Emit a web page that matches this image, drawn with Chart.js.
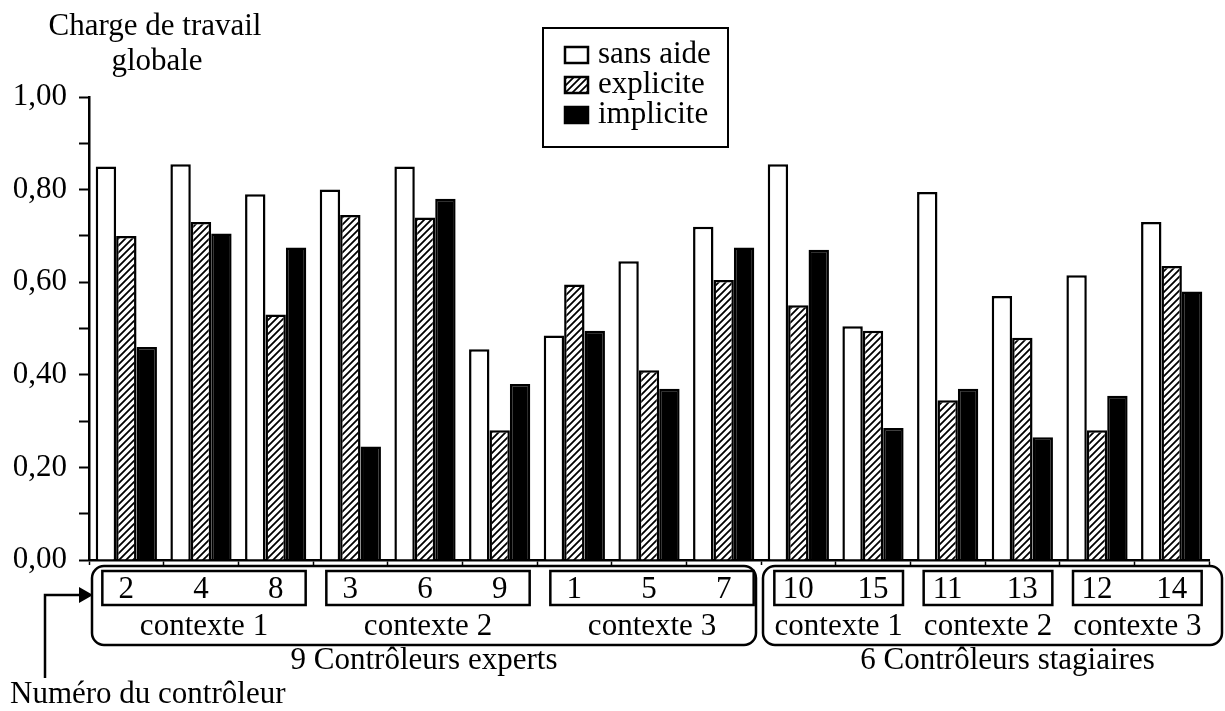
<!DOCTYPE html>
<html>
<head>
<meta charset="utf-8">
<script src="https://cdn.jsdelivr.net/npm/chart.js@4"></script>
<style>
    html, body { margin: 0; padding: 0; background: #fff; }
    #wrap { width: 1225px; height: 711px; }
</style>
</head>
<body>
<div id="wrap"><canvas id="myChart" width="1225" height="711"></canvas></div>
<script>
// numeros des controleurs (ordre du graphique)
const controleurs = ['2', '4', '8', '3', '6', '9', '1', '5', '7', '10', '15', '11', '13', '12', '14'];

// charge de travail globale
const sansAide  = [0.85, 0.855, 0.79, 0.80, 0.85, 0.455, 0.485, 0.645, 0.72, 0.855, 0.505, 0.795, 0.57, 0.615, 0.73];
const explicite = [0.70, 0.73, 0.53, 0.745, 0.74, 0.28, 0.595, 0.41, 0.605, 0.55, 0.495, 0.345, 0.48, 0.28, 0.635];
const implicite = [0.46, 0.705, 0.675, 0.245, 0.78, 0.38, 0.495, 0.37, 0.675, 0.67, 0.285, 0.37, 0.265, 0.355, 0.58];

const seriesLabels = ['sans aide', 'explicite', 'implicite'];
const yTicks = [0, 0.2, 0.4, 0.6, 0.8, 1.0];

// regroupements sous l'axe
const contexteDebut = [0, 3, 6, 9, 11, 13];
const contexteFin   = [2, 5, 8, 10, 12, 14];
const contexteLabels = ['contexte 1', 'contexte 2', 'contexte 3', 'contexte 1', 'contexte 2', 'contexte 3'];
const groupeDebut = [0, 9];
const groupeFin   = [8, 14];
const groupeLabels = ['9 Contrôleurs experts', '6 Contrôleurs stagiaires'];

const FONT = "'Liberation Serif', 'DejaVu Serif', serif";
const NOIR = '#000';

function hachures() {
    const c = document.createElement('canvas');
    c.width = 7;
    c.height = 7;
    const g = c.getContext('2d');
    g.fillStyle = '#fff';
    g.fillRect(0, 0, 7, 7);
    g.strokeStyle = NOIR;
    g.lineWidth = 1.8;
    g.beginPath();
    g.moveTo(-1, 8); g.lineTo(8, -1);
    g.moveTo(-1, 1); g.lineTo(1, -1);
    g.moveTo(6, 8); g.lineTo(8, 6);
    g.stroke();
    return g.createPattern(c, 'repeat');
}
const motif = hachures();

function rectArrondi(ctx, x, y, w, h, r) {
    ctx.beginPath();
    ctx.moveTo(x + r, y);
    ctx.arcTo(x + w, y, x + w, y + h, r);
    ctx.arcTo(x + w, y + h, x, y + h, r);
    ctx.arcTo(x, y + h, x, y, r);
    ctx.arcTo(x, y, x + w, y, r);
    ctx.closePath();
    ctx.stroke();
}

// dessin des textes, legende et cadres du bas
const decor = {
    id: 'decor',
    afterDraw(chart) {
        const ctx = chart.ctx;
        const xs = chart.scales.x;
        const pas = xs.width / controleurs.length;
        ctx.save();
        ctx.fillStyle = NOIR;
        ctx.strokeStyle = NOIR;
        ctx.font = '31px ' + FONT;
        ctx.textBaseline = 'middle';

        // titre de l'axe y
        ctx.textAlign = 'center';
        ctx.fillText('Charge de travail', 155, 27);
        ctx.fillText('globale', 157, 62);

        // legende
        ctx.lineWidth = 2;
        ctx.strokeRect(543, 28, 185, 119);
        chart.data.datasets.forEach(function (ds, i) {
            const cy = 55 + i * 30;
            ctx.fillStyle = ds.backgroundColor;
            ctx.fillRect(565, cy - 8, 23, 16);
            ctx.lineWidth = 2.5;
            ctx.strokeRect(565, cy - 8, 23, 16);
            ctx.fillStyle = NOIR;
            ctx.textAlign = 'left';
            ctx.fillText(ds.label, 598, cy);
        });

        // cadres des contextes
        ctx.textAlign = 'center';
        for (let i = 0; i < contexteDebut.length; i++) {
            const x1 = xs.getPixelForValue(contexteDebut[i]) - 24;
            const x2 = xs.getPixelForValue(contexteFin[i]) + 30;
            ctx.lineWidth = 2.5;
            ctx.strokeRect(x1, 571, x2 - x1, 34);
            ctx.fillText(contexteLabels[i], (x1 + x2) / 2, 627);
        }

        // cadres experts / stagiaires
        const pads = [[3, -5], [2, 13]];
        for (let i = 0; i < groupeDebut.length; i++) {
            const x1 = xs.getPixelForValue(groupeDebut[i]) - pas / 2 + pads[i][0];
            const x2 = xs.getPixelForValue(groupeFin[i]) + pas / 2 + pads[i][1];
            ctx.lineWidth = 2.5;
            rectArrondi(ctx, x1, 566, x2 - x1, 79, 12);
            ctx.fillText(groupeLabels[i], (x1 + x2) / 2 + (i === 1 ? 15 : 0), 661);
        }

        // fleche "Numéro du contrôleur"
        ctx.lineWidth = 2.5;
        ctx.beginPath();
        ctx.moveTo(45, 678);
        ctx.lineTo(45, 595);
        ctx.lineTo(80, 595);
        ctx.stroke();
        ctx.beginPath();
        ctx.moveTo(79, 587);
        ctx.lineTo(93, 595);
        ctx.lineTo(79, 603);
        ctx.closePath();
        ctx.fill();
        ctx.textAlign = 'left';
        ctx.fillText('Numéro du contrôleur', 10, 695);
        ctx.restore();
    }
};

function crearGrafico() {
    const ctx = document.getElementById('myChart');
    Chart.defaults.font.family = FONT;
    Chart.defaults.font.size = 31;
    Chart.defaults.color = NOIR;

    const datasets = [
        { label: seriesLabels[0], data: sansAide, backgroundColor: '#fff' },
        { label: seriesLabels[1], data: explicite, backgroundColor: motif },
        { label: seriesLabels[2], data: implicite, backgroundColor: NOIR }
    ];
    datasets.forEach(function (ds) {
        ds.borderColor = NOIR;
        ds.borderWidth = 2.5;
        ds.categoryPercentage = 0.82;
        ds.barPercentage = 1.0;
    });

    new Chart(ctx, {
        type: 'bar',
        data: { labels: controleurs, datasets: datasets },
        options: {
            responsive: false,
            animation: false,
            layout: { padding: { top: 97, right: 16, left: 0, bottom: 0 } },
            plugins: { legend: { display: false }, tooltip: { enabled: false } },
            scales: {
                x: {
                    grid: { offset: true, drawOnChartArea: false, tickLength: 5, tickWidth: 1.5, tickColor: NOIR },
                    border: { color: NOIR, width: 2.5 },
                    ticks: { padding: 6, maxRotation: 0, autoSkip: false, font: { size: 31 } },
                    afterFit: function (s) { s.height = 151; }
                },
                y: {
                    min: 0,
                    max: 1,
                    grid: { drawOnChartArea: false, tickLength: 10, tickWidth: 2, tickColor: NOIR },
                    border: { color: NOIR, width: 2.5 },
                    ticks: {
                        stepSize: 0.1,
                        padding: 12,
                        font: { size: 31 },
                        callback: function (v) {
                            const k = Math.round(v * 10);
                            if (k % 2 !== 0) return '';
                            const t = yTicks.find(function (y) { return Math.round(y * 10) === k; });
                            return t.toFixed(2).replace('.', ',');
                        }
                    },
                    afterFit: function (s) { s.width = 89; }
                }
            }
        },
        plugins: [decor]
    });
}

window.onload = crearGrafico;
</script>
</body>
</html>
